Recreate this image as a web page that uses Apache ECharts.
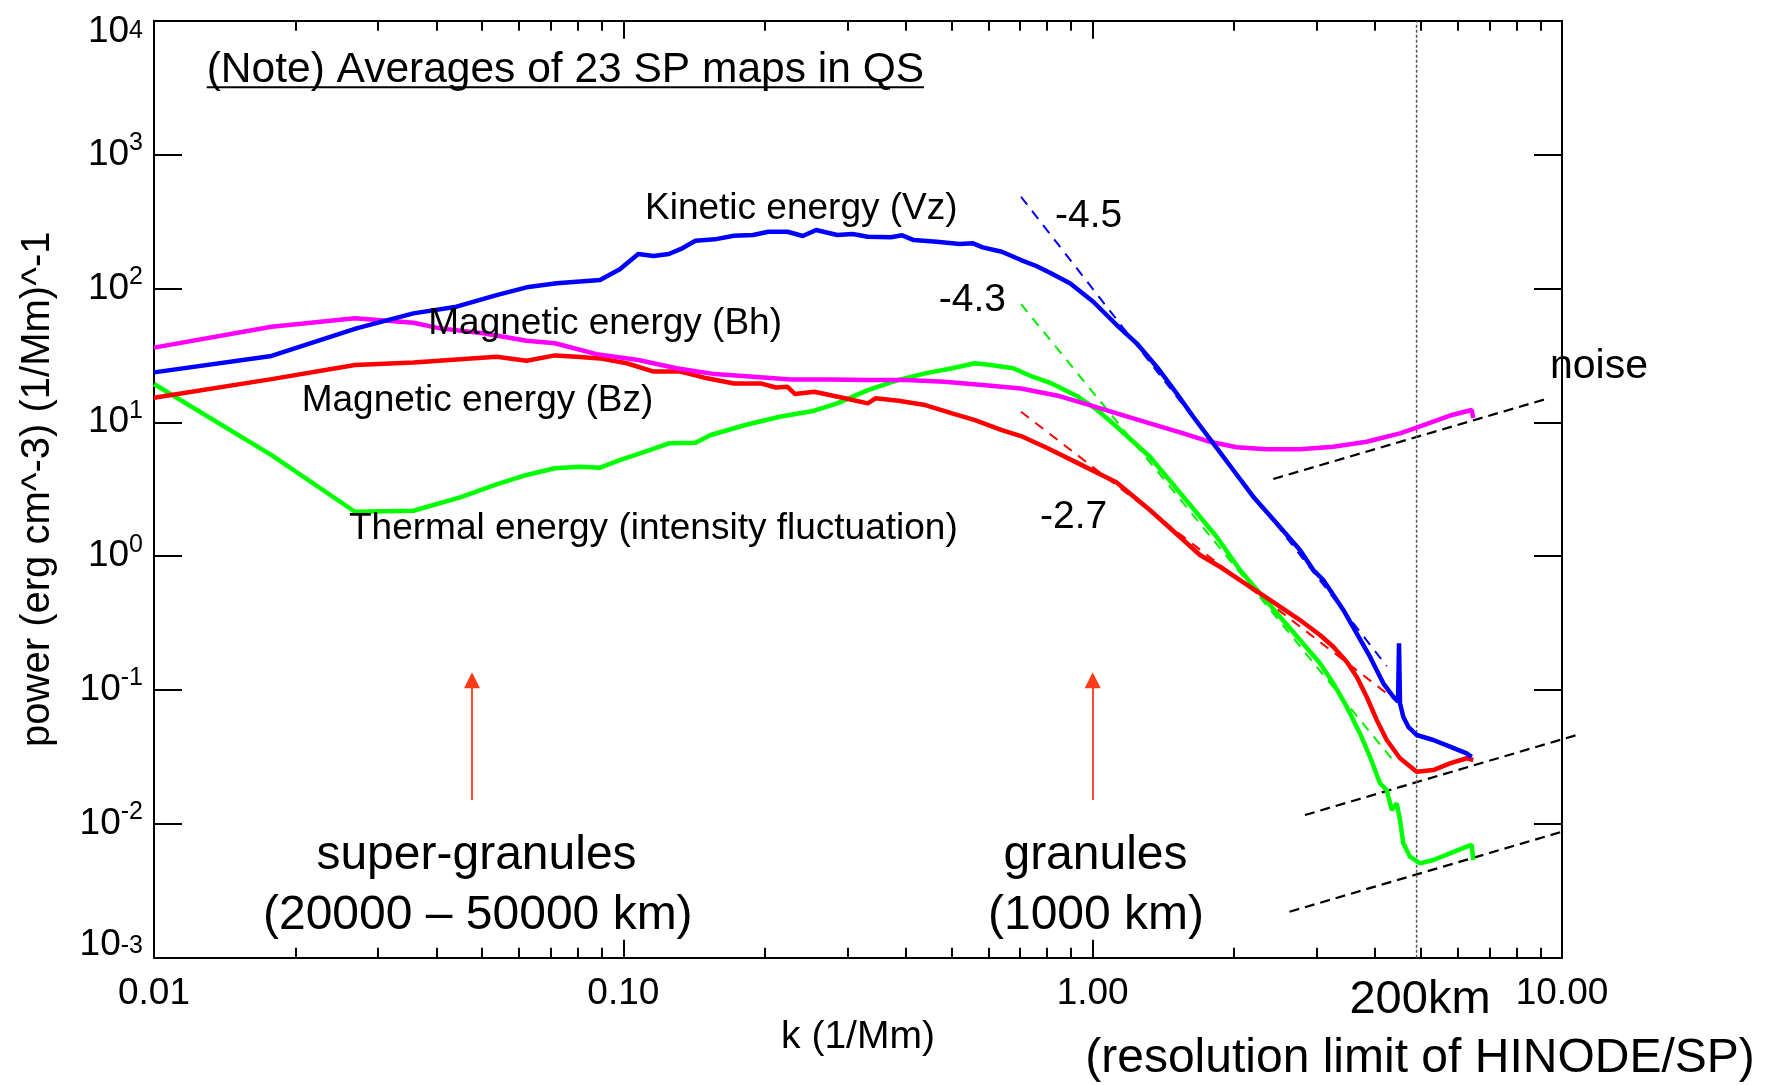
<!DOCTYPE html>
<html>
<head>
<meta charset="utf-8">
<title>Power spectra of kinetic, magnetic and thermal energy</title>
<script src="https://cdn.jsdelivr.net/npm/echarts@6.0.0/dist/echarts.min.js"></script>
<style>
  html, body { margin: 0; padding: 0; background: #fff; }
  #chart { width: 1771px; height: 1085px; }
</style>
</head>
<body>
<div id="chart"></div>
<script>
// ---- data: [k (1/Mm), power] ----
const kineticVz = [
  [0.0100, 23.6], [0.0178, 31.3], [0.0270, 50.3], [0.0357, 65.1], [0.0441, 73.0],
  [0.0537, 89.2], [0.0622, 101.9], [0.0721, 109.1], [0.0892, 115.5], [0.0983, 138.8],
  [0.1076, 180.6], [0.1160, 174.5], [0.1250, 180.6], [0.1335, 199.3], [0.1425, 227.1],
  [0.1566, 232.6], [0.1720, 247.5], [0.1890, 250.5], [0.2037, 265.1], [0.2238, 265.1],
  [0.2411, 246.2], [0.2575, 273.0], [0.2856, 250.5], [0.3079, 254.9], [0.3319, 243.3],
  [0.3715, 240.8], [0.3928, 249.2], [0.4157, 229.8], [0.4655, 223.2], [0.5206, 214.6],
  [0.5561, 217.2], [0.5830, 202.7], [0.6403, 187.9], [0.7035, 162.9], [0.7584, 147.0],
  [0.8110, 131.0], [0.8946, 109.1], [1.003, 79.5], [1.125, 53.3], [1.241, 38.9],
  [1.369, 26.0], [1.510, 16.45], [1.638, 11.0], [1.807, 6.96], [1.993, 4.40],
  [2.198, 2.78], [2.466, 1.758], [2.765, 1.111], [2.952, 0.787], [3.100, 0.663],
  [3.204, 0.558], [3.420, 0.396], [3.652, 0.265], [3.898, 0.1772], [4.162, 0.1121],
  [4.371, 0.0890], [4.473, 0.0817], [4.495, 0.2232], [4.517, 0.0795], [4.590, 0.0631],
  [4.705, 0.0531], [4.901, 0.0461], [5.318, 0.0423], [5.772, 0.0377], [6.265, 0.0336],
  [6.421, 0.0317]
];

const magneticBh = [
  [0.0100, 36.1], [0.0178, 51.7], [0.0268, 59.8], [0.0357, 55.4], [0.0407, 50.3],
  [0.0503, 46.2], [0.0622, 40.7], [0.0715, 38.9], [0.0877, 32.3], [0.1076, 29.2],
  [0.1298, 25.3], [0.1566, 22.9], [0.1890, 21.9], [0.2280, 20.9], [0.2750, 20.9],
  [0.3319, 20.7], [0.4004, 20.7], [0.4833, 20.1], [0.5830, 19.0], [0.7035, 17.9],
  [0.8485, 15.7], [0.9868, 13.45], [1.125, 11.66], [1.324, 9.82], [1.560, 8.27],
  [1.778, 7.15], [2.027, 6.50], [2.349, 6.28], [2.765, 6.28], [3.256, 6.57],
  [3.835, 7.15], [4.517, 8.27], [4.901, 9.13], [5.772, 11.23], [6.421, 12.34],
  [6.471, 10.76]
];

const magneticBz = [
  [0.0100, 15.26], [0.0178, 21.0], [0.0268, 26.8], [0.0357, 28.0], [0.0537, 30.9],
  [0.0622, 28.8], [0.0715, 31.6], [0.0795, 30.9], [0.0892, 30.0], [0.1017, 27.6],
  [0.1160, 23.9], [0.1323, 23.9], [0.1509, 21.3], [0.1720, 19.5], [0.1962, 19.5],
  [0.2114, 18.2], [0.2238, 18.4], [0.2323, 16.26], [0.2551, 16.9], [0.2965, 15.1],
  [0.3319, 13.85], [0.3445, 15.1], [0.3857, 14.5], [0.4398, 13.45], [0.5018, 11.66],
  [0.5613, 10.39], [0.6403, 8.75], [0.7035, 7.89], [0.8021, 6.39], [0.9322, 4.93],
  [1.125, 3.55], [1.324, 2.21], [1.560, 1.319], [1.693, 1.019], [1.867, 0.833],
  [2.060, 0.663], [2.273, 0.527], [2.506, 0.419], [2.765, 0.333], [3.050, 0.2574],
  [3.256, 0.2104], [3.477, 0.1626], [3.652, 0.1256], [3.835, 0.0890], [4.029, 0.0597],
  [4.232, 0.0423], [4.517, 0.0309], [4.901, 0.0245], [5.318, 0.0252], [5.772, 0.0283],
  [6.265, 0.0309], [6.471, 0.0300]
];

const thermal = [
  [0.0100, 19.3], [0.0178, 5.69], [0.0268, 2.146], [0.0357, 2.184], [0.0449, 2.750],
  [0.0537, 3.44], [0.0622, 4.04], [0.0715, 4.53], [0.0808, 4.65], [0.0892, 4.58],
  [0.0983, 5.22], [0.1138, 6.20], [0.1250, 6.96], [0.1425, 7.03], [0.1535, 8.03],
  [0.1820, 9.54], [0.2155, 11.0], [0.2551, 12.2], [0.2856, 13.85], [0.3319, 17.4],
  [0.3857, 20.7], [0.4398, 23.2], [0.5018, 25.3], [0.5613, 27.6], [0.6053, 26.8],
  [0.6772, 25.3], [0.7445, 21.9], [0.8177, 19.5], [0.9322, 15.5], [1.024, 12.3],
  [1.125, 9.26], [1.324, 5.53], [1.560, 2.78], [1.837, 1.396], [2.060, 0.787],
  [2.273, 0.527], [2.506, 0.3527], [2.765, 0.236], [3.050, 0.1582], [3.256, 0.1121],
  [3.477, 0.0750], [3.712, 0.0474], [3.898, 0.0317], [4.094, 0.0201], [4.232, 0.0179],
  [4.337, 0.01268], [4.445, 0.01423], [4.517, 0.01068], [4.590, 0.00715], [4.744, 0.00568],
  [4.983, 0.00507], [5.318, 0.00537], [5.772, 0.00602], [6.265, 0.00675], [6.421, 0.00695],
  [6.471, 0.00537]
];

// power-law fits: start k, power at start, slope, end k
const fitVz = { k0: 0.7035, p0: 484, slope: -4.5, k1: 4.232 };
const fitThermal = { k0: 0.7035, p0: 76.4, slope: -4.3, k1: 4.371 };
const fitBz = { k0: 0.7035, p0: 11.99, slope: -2.7, k1: 4.371 };

// noise levels
const noiseBh = [[2.426, 3.77], [9.20, 14.84]];
const noiseVzBz = [[2.834, 0.01164], [10.75, 0.0461]];
const noiseThermal = [[2.627, 0.002206], [10.0, 0.00873]];

// markers
const resolutionK = 4.9;
const superGranuleK = 0.0476;
const granuleK = 1.0;
const arrowPower = [0.01507, 0.118];

// axis ranges
const xRange = [0.01, 10];
const yRange = [1e-3, 1e4];

// ---- helpers ----
const FONT = 'Liberation Sans';
const fitLine = f => [[f.k0, f.p0], [f.k1, f.p0 * Math.pow(f.k1 / f.k0, f.slope)]];

const blackLine = { color: '#000', width: 2 };

function xAxisCfg(position, withLabels) {
  return {
    type: 'log', logBase: 10, min: xRange[0], max: xRange[1], position,
    axisLine: { show: true, lineStyle: blackLine },
    axisTick: { show: true, inside: true, length: 18, lineStyle: blackLine },
    minorTick: { show: true, splitNumber: 9, length: 10, lineStyle: blackLine },
    splitLine: { show: false }, minorSplitLine: { show: false },
    name: withLabels ? 'k (1/Mm)' : '',
    nameLocation: 'middle', nameGap: 60,
    nameTextStyle: { fontFamily: FONT, fontSize: 39, color: '#000' },
    axisLabel: withLabels ? {
      show: true, showMinLabel: true, showMaxLabel: true, hideOverlap: false,
      margin: 18, fontFamily: FONT, fontSize: 37, lineHeight: 37, color: '#000',
      formatter: v => Number(v).toFixed(2)
    } : { show: false }
  };
}

const supStyle = { fontFamily: FONT, fontSize: 25, lineHeight: 25, verticalAlign: 'top', color: '#000' };
const baseStyle = { fontFamily: FONT, fontSize: 37, lineHeight: 48, verticalAlign: 'middle', color: '#000' };

function yAxisCfg(position, withLabels) {
  return {
    type: 'log', logBase: 10, min: yRange[0], max: yRange[1], position,
    axisLine: { show: true, lineStyle: blackLine },
    axisTick: { show: true, inside: true, length: 28, lineStyle: blackLine },
    minorTick: { show: false },
    splitLine: { show: false }, minorSplitLine: { show: false },
    name: withLabels ? 'power (erg cm^-3) (1/Mm)^-1' : '',
    nameLocation: 'middle', nameRotate: 90, nameGap: 96,
    nameTextStyle: { fontFamily: FONT, fontSize: 40, color: '#000' },
    axisLabel: withLabels ? {
      show: true, showMinLabel: true, showMaxLabel: true, hideOverlap: false,
      margin: 11,
      formatter: v => {
        const e = Math.round(Math.log10(v));
        const tag = e === 4 ? 'T' : (e === -3 ? 'B' : '');
        return `{b${tag}|10}{s${tag}|${e}}`;
      },
      rich: {
        b: baseStyle,
        s: supStyle,
        bT: Object.assign({}, baseStyle, { padding: [22, 0, 0, 0] }),
        sT: Object.assign({}, supStyle, { padding: [22, 0, 0, 0] }),
        bB: Object.assign({}, baseStyle, { padding: [0, 0, 25, 0] }),
        sB: Object.assign({}, supStyle, { padding: [0, 0, 25, 0] })
      }
    } : { show: false }
  };
}

function curve(name, data, color) {
  return {
    name, type: 'line', data, showSymbol: false, symbol: 'none', smooth: false,
    lineStyle: { color, width: 4.5 }, z: 5, silent: true
  };
}
function dashed(name, data, color, width, dash) {
  return {
    name, type: 'line', data, showSymbol: false, symbol: 'none',
    lineStyle: { color, width, type: dash }, z: 3, silent: true
  };
}

function text(x, y, str, size, align) {
  return {
    type: 'text', x, y, z: 100, silent: true,
    style: {
      text: str, fontFamily: FONT, fontSize: size, fill: '#000',
      align: align || 'left', verticalAlign: 'middle',
      textAlign: align || 'left', textVerticalAlign: 'middle'
    }
  };
}

// note with underline
const noteText = '(Note) Averages of 23 SP maps in QS';
const noteSize = 42.5;
const measureCtx = document.createElement('canvas').getContext('2d');
measureCtx.font = `${noteSize}px "${FONT}"`;
const noteWidth = measureCtx.measureText(noteText).width;

const chart = echarts.init(document.getElementById('chart'), null, { renderer: 'canvas' });
chart.setOption({
  animation: false,
  backgroundColor: '#fff',
  grid: { left: 154, right: 209, top: 20.7, bottom: 127.3, containLabel: false, outerBoundsMode: 'none' },
  xAxis: [xAxisCfg('bottom', true), xAxisCfg('top', false)],
  yAxis: [yAxisCfg('left', true), yAxisCfg('right', false)],
  series: [
    dashed('fit Vz', fitLine(fitVz), '#0000ff', 2, [10, 8]),
    dashed('fit thermal', fitLine(fitThermal), '#00ee00', 2, [10, 8]),
    dashed('fit Bz', fitLine(fitBz), '#ff0000', 2, [10, 8]),
    dashed('noise Bh', noiseBh, '#000', 2.2, [10, 6]),
    dashed('noise thermal', noiseThermal, '#000', 2.2, [10, 6]),
    {
      name: 'noise Vz Bz', type: 'lines', coordinateSystem: 'cartesian2d', z: 3,
      silent: true, clip: false, symbol: 'none',
      lineStyle: { color: '#000', width: 2.2, type: [10, 6], opacity: 1 },
      data: [{ coords: noiseVzBz }]
    },
    dashed('resolution limit', [[resolutionK, yRange[0]], [resolutionK, yRange[1]]], '#555', 1.5, [3, 2]),
    curve('Thermal energy', thermal, '#00ff00'),
    curve('Magnetic energy (Bz)', magneticBz, '#ff0000'),
    curve('Magnetic energy (Bh)', magneticBh, '#ff00ff'),
    curve('Kinetic energy (Vz)', kineticVz, '#0000ff'),
    {
      name: 'scales', type: 'lines', coordinateSystem: 'cartesian2d', z: 6, silent: true,
      symbol: ['none', 'triangle'], symbolSize: [0, 16],
      lineStyle: { color: '#ff3a1a', width: 1.8, opacity: 1 },
      itemStyle: { color: '#ff3a1a' },
      data: [
        { coords: [[superGranuleK, arrowPower[0]], [superGranuleK, arrowPower[1]]] },
        { coords: [[granuleK, arrowPower[0]], [granuleK, arrowPower[1]]] }
      ]
    }
  ],
  graphic: [
    text(206.7, 70.3, noteText, noteSize),
    { type: 'line', z: 100, silent: true,
      shape: { x1: 206.7, y1: 87.3, x2: 206.7 + noteWidth, y2: 87.3 },
      style: { stroke: '#000', lineWidth: 2 } },
    text(645, 208.3, 'Kinetic energy (Vz)', 37),
    text(428.3, 323.3, 'Magnetic energy (Bh)', 37),
    text(301.7, 400.8, 'Magnetic energy (Bz)', 37),
    text(349, 528.3, 'Thermal energy (intensity fluctuation)', 37),
    text(1055, 216.7, String(fitVz.slope), 39),
    text(938.7, 300, String(fitThermal.slope), 39),
    text(1040, 517, String(fitBz.slope), 39),
    text(1550, 367, 'noise', 41),
    text(476.5, 856, 'super-granules', 48, 'center'),
    text(477.8, 916, '(20000 \u2013 50000 km)', 48, 'center'),
    text(1095.5, 856, 'granules', 48, 'center'),
    text(1096, 916, '(1000 km)', 48, 'center'),
    text(1420, 1000, '200km', 47, 'center'),
    text(1420, 1058.3, '(resolution limit of HINODE/SP)', 48, 'center')
  ]
});
</script>
</body>
</html>
